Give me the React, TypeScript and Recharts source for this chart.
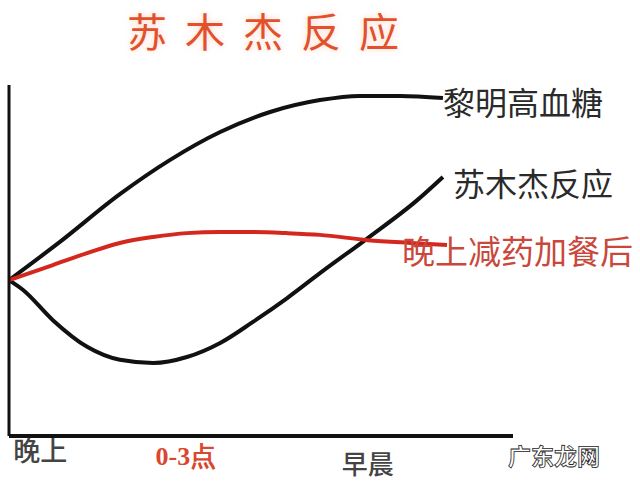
import React from "react"
import { LineChart, Line, XAxis, YAxis } from "recharts"

// x: 0 = evening, 100 = right end of the time axis; y: relative blood sugar
const dawnX = [0, 10.1, 22.0, 31.9, 41.9, 51.8, 61.7, 69.6, 77.6, 86.1]
const dawnY = [44.4, 55.3, 68.9, 78.6, 86.6, 92.3, 95.7, 96.9, 96.9, 96.3]

const somogyiX = [0, 2.8, 8.7, 15.5, 22.0, 28.6, 35.3, 41.9, 48.4, 55.2, 61.7, 71.2, 81.0, 86.1]
const somogyiY = [44.4, 41.6, 33.0, 25.4, 21.7, 20.8, 22.5, 26.5, 32.5, 39.3, 46.4, 56.4, 67.2, 73.8]

const adjustedX = [0, 8.7, 15.5, 22.0, 28.6, 35.3, 41.9, 48.4, 55.2, 61.7, 71.2, 79.6, 86.9]
const adjustedY = [44.4, 48.7, 52.1, 55.0, 56.7, 57.8, 58.1, 58.1, 57.8, 57.3, 55.8, 55.0, 54.4]

const tickPos = [6.2, 35.1, 71.2]
const tickLabels = ["晚上", "0-3点", "早晨"]

const title = "苏木杰反应"
const seriesNames = ["黎明高血糖", "苏木杰反应", "晚上减药加餐后"]

const toRows = (xs: number[], ys: number[]) => xs.map((x, i) => ({ x, y: ys[i] }))

const cjk = '"Noto Sans CJK SC", "Noto Sans", sans-serif'

function endLabel(text: string, count: number, dx: number, dy: number, color: string, size: number) {
  return (props: any) => {
    if (props.index !== count - 1) return null
    return (
      <text
        x={props.x + dx}
        y={props.y + dy}
        fill={color}
        fontSize={size}
        fontFamily={cjk}
        dominantBaseline="central"
      >
        {text}
      </text>
    )
  }
}

function TimeTick(props: any) {
  const i = props.index
  const styles = [
    { dy: 13, color: "#444", size: 27, font: cjk, weight: 500 },
    { dy: 20, color: "#d9472f", size: 26, font: '"Liberation Serif", serif', weight: 700 },
    { dy: 26, color: "#444", size: 26, font: cjk, weight: 500 },
  ]
  const s = styles[i] ?? styles[0]
  return (
    <text
      x={props.x}
      y={props.y + s.dy}
      textAnchor="middle"
      dominantBaseline="central"
      fill={s.color}
      fontSize={s.size}
      fontFamily={s.font}
      fontWeight={s.weight}
    >
      {tickLabels[i]}
    </text>
  )
}

export default function App() {
  const dawn = toRows(dawnX, dawnY)
  const somogyi = toRows(somogyiX, somogyiY)
  const adjusted = toRows(adjustedX, adjustedY)

  return (
    <div style={{ position: "absolute", left: 0, top: 0, width: 640, height: 481, background: "#fff", fontFamily: cjk }}>
      <div
        style={{
          position: "absolute",
          left: 127,
          top: 6,
          fontSize: 40,
          letterSpacing: 18,
          color: "#e2502c",
          lineHeight: "48px",
          textShadow: "0 0 6px rgba(255,200,180,0.8)",
          whiteSpace: "nowrap",
        }}
      >
        {title}
      </div>
      <LineChart
        width={640}
        height={481}
        margin={{ top: 85, left: 8, right: 127, bottom: 44 }}
        style={{ position: "absolute", left: 0, top: 0 }}
      >
        <XAxis
          type="number"
          dataKey="x"
          domain={[0, 100]}
          ticks={tickPos}
          height={1}
          tickSize={0}
          tickMargin={0}
          tickLine={false}
          axisLine={{ stroke: "#111", strokeWidth: 4 }}
          tick={<TimeTick />}
          interval={0}
          allowDataOverflow
        />
        <YAxis
          type="number"
          dataKey="y"
          domain={[0, 100]}
          width={1}
          tick={false}
          tickLine={false}
          axisLine={{ stroke: "#111", strokeWidth: 3 }}
          allowDataOverflow
        />
        <Line
          data={dawn}
          dataKey="y"
          type="monotone"
          stroke="#111"
          strokeWidth={4}
          dot={false}
          isAnimationActive={false}
          label={endLabel(seriesNames[0], dawn.length, 0, 3, "#2a2a2a", 32)}
        />
        <Line
          data={somogyi}
          dataKey="y"
          type="monotone"
          stroke="#111"
          strokeWidth={4}
          dot={false}
          isAnimationActive={false}
          label={endLabel(seriesNames[1], somogyi.length, 10, 5, "#2a2a2a", 32)}
        />
        <Line
          data={adjusted}
          dataKey="y"
          type="monotone"
          stroke="#d4281e"
          strokeWidth={4}
          dot={false}
          isAnimationActive={false}
          label={endLabel(seriesNames[2], adjusted.length, -45, 5, "#c9483b", 33)}
        />
      </LineChart>
      <div
        style={{
          position: "absolute",
          left: 508,
          top: 438,
          fontSize: 23,
          fontWeight: 700,
          color: "#fff",
          WebkitTextStroke: "0.8px #222",
          whiteSpace: "nowrap",
        }}
      >
        广东龙网
      </div>
    </div>
  )
}
